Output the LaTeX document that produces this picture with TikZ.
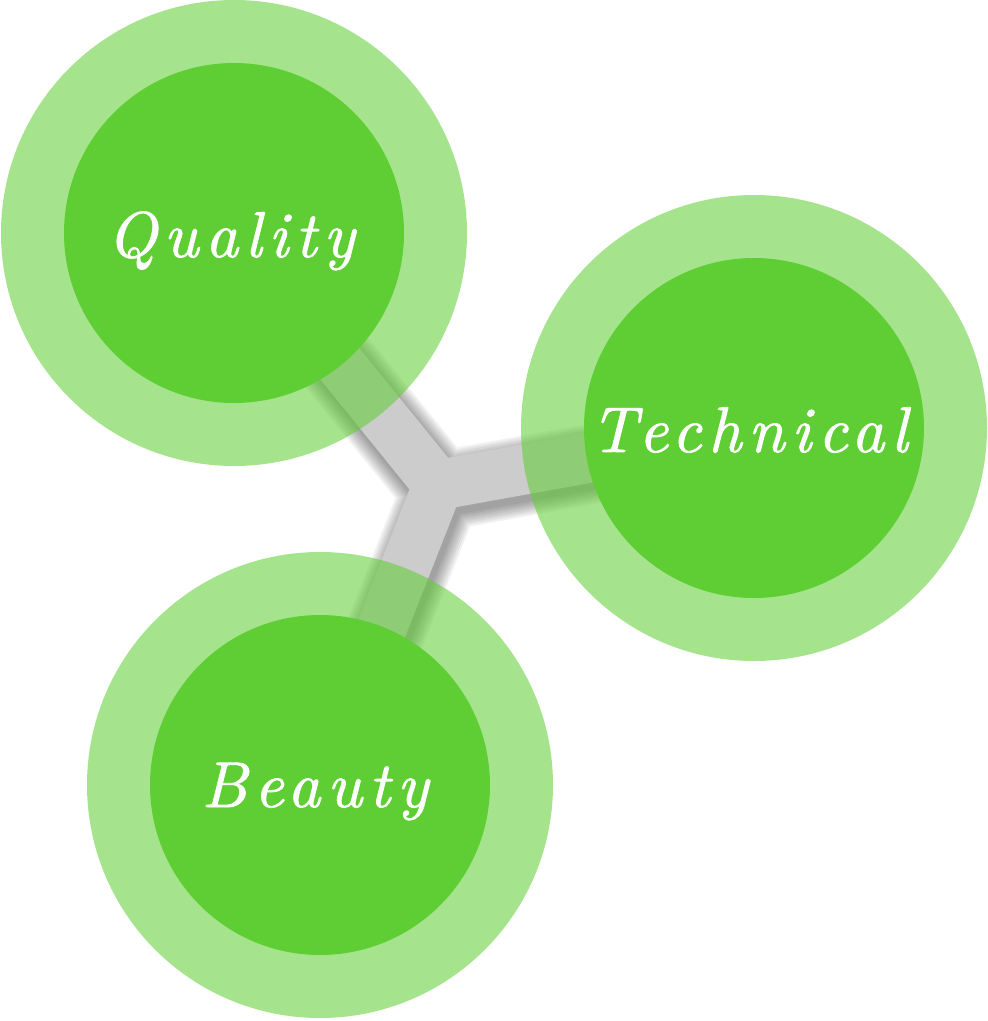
\documentclass[tikz,border=0pt]{standalone}
\usepackage{fontspec}
\newfontfamily\wordfont{lmroman10-italic.otf}[LetterSpace=10.5, FakeBold=1.2]
\definecolor{leaf}{HTML}{5FCE34}
\tikzset{
  ring/.style={fill=leaf, opacity=0.56},
  core/.style={fill=leaf},
  branch/.style={line width=1.25cm, draw=black!20, line join=miter},
  word/.style={text=white, inner sep=0pt, anchor=base,
    font=\fontsize{46}{50}\selectfont\wordfont}
}
\begin{document}
\begin{tikzpicture}[x=0.025cm, y=-0.025cm]
  \useasboundingbox (0,0) rectangle (988,1021);
  \coordinate (q) at (234,233);
  \coordinate (t) at (754,428);
  \coordinate (b) at (320,785);
  \coordinate (j) at (438,485);
  % weicher Schatten unter dem Verbinder
  \foreach \w in {2,6,...,30}
    \draw[black, opacity=0.055, line width=1.25cm+\w*0.025cm, line join=round]
      ([shift={(3,6)}]q) -- ([shift={(3,6)}]j) -- ([shift={(3,6)}]t)
      ([shift={(3,6)}]j) -- ([shift={(3,6)}]b);
  % Verbinder
  \draw[branch] (q) -- (j) -- (t) (j) -- (b);
  % Ringe
  \fill[ring] (q) circle[radius=233];
  \fill[ring] (t) circle[radius=233];
  \fill[ring] (b) circle[radius=233];
  \fill[core] (q) circle[radius=170];
  \fill[core] (t) circle[radius=170];
  \fill[core] (b) circle[radius=170];
  % Beschriftung
  \node[word] (quality) at (231,257) {Quality};
  \node[word] (technical) at (749,452) {Technical};
  \node[word] (beauty) at (315,807) {Beauty};
\end{tikzpicture}
\end{document}
